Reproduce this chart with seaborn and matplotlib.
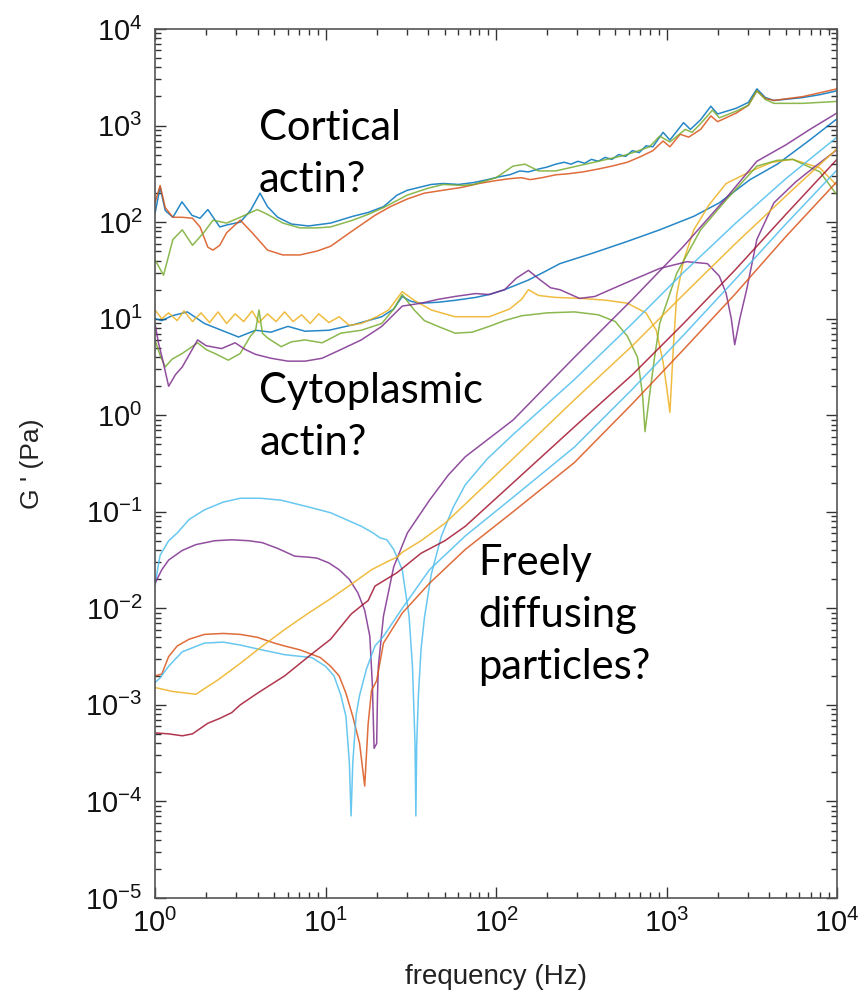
import numpy as np
import matplotlib
matplotlib.use("Agg")
import matplotlib.pyplot as plt
import matplotlib.ticker as mticker
import seaborn as sns

# ---- data: (log10 frequency [Hz], log10 G' [Pa]) ----
cort_blue = [(0,2.09),(0.03,2.36),(0.06,2.12),(0.105,2.05),(0.158,2.21),(0.217,2.07),(0.264,2.04),(0.31,2.13),
             (0.38,1.95),(0.42,1.97),(0.5,2.0),(0.56,2.12),(0.616,2.30),(0.66,2.16),(0.72,2.05),(0.8,1.98),
             (0.9,1.96),(1.03,1.99),(1.16,2.06),(1.25,2.1),(1.34,2.16),(1.42,2.28),(1.48,2.33),(1.55,2.36),
             (1.62,2.39),(1.69,2.40),(1.78,2.39),(1.87,2.41),(1.95,2.44),(2.02,2.47),(2.08,2.49),(2.14,2.53),
             (2.19,2.52),(2.25,2.55),(2.30,2.57),(2.35,2.60),(2.40,2.62),(2.44,2.60),(2.48,2.63),(2.52,2.61),
             (2.56,2.65),(2.6,2.63),(2.64,2.67),(2.68,2.65),(2.72,2.70),(2.76,2.68),(2.80,2.74),(2.84,2.72),
             (2.88,2.79),(2.92,2.78),(2.98,2.93),(3.02,2.85),(3.10,3.03),(3.14,2.96),(3.20,3.06),(3.26,3.20),
             (3.30,3.12),(3.41,3.18),(3.48,3.24),(3.53,3.38),(3.58,3.29),(3.63,3.26),(3.80,3.29),(3.90,3.32),(4.0,3.36)]
cort_orange = [(0,2.2),(0.03,2.38),(0.06,2.15),(0.105,2.05),(0.16,2.05),(0.22,2.04),(0.264,1.95),(0.31,1.74),
               (0.34,1.71),(0.38,1.76),(0.42,1.89),(0.5,2.02),(0.57,1.89),(0.66,1.71),(0.75,1.66),(0.85,1.66),
               (0.95,1.70),(1.03,1.75),(1.15,1.90),(1.29,2.07),(1.38,2.16),(1.48,2.24),(1.58,2.30),(1.69,2.33),
               (1.80,2.36),(1.90,2.40),(2.0,2.43),(2.08,2.45),(2.15,2.46),(2.2,2.44),(2.27,2.46),(2.35,2.49),
               (2.42,2.50),(2.51,2.52),(2.6,2.55),(2.68,2.58),(2.77,2.62),(2.85,2.68),(2.92,2.74),(2.98,2.84),
               (3.02,2.78),(3.08,2.91),(3.13,2.88),(3.20,2.96),(3.26,3.10),(3.30,3.04),(3.41,3.13),(3.48,3.21),
               (3.53,3.36),(3.58,3.28),(3.63,3.26),(3.80,3.30),(3.90,3.34),(4.0,3.38)]
cort_green = [(0,1.61),(0.05,1.45),(0.105,1.82),(0.16,1.92),(0.22,1.76),(0.29,1.90),(0.34,2.02),(0.42,1.99),
              (0.5,2.05),(0.6,2.13),(0.66,2.08),(0.75,1.99),(0.85,1.94),(0.95,1.94),(1.03,1.95),(1.16,2.02),
              (1.25,2.08),(1.34,2.15),(1.48,2.28),(1.6,2.35),(1.69,2.39),(1.8,2.38),(1.87,2.39),(2.0,2.46),
              (2.1,2.58),(2.17,2.60),(2.25,2.53),(2.35,2.53),(2.45,2.57),(2.55,2.61),(2.65,2.65),(2.75,2.69),
              (2.82,2.73),(2.9,2.78),(2.96,2.89),(3.02,2.83),(3.11,2.96),(3.15,2.93),(3.20,3.02),(3.27,3.16),
              (3.31,3.08),(3.41,3.15),(3.48,3.21),(3.53,3.36),(3.58,3.27),(3.63,3.23),(3.80,3.23),(3.90,3.24),(4.0,3.25)]

cyto_blue = [(0,1.0),(0.04,0.98),(0.1,1.03),(0.19,1.07),(0.29,0.95),(0.39,0.88),(0.49,0.81),(0.59,0.88),
             (0.68,0.86),(0.78,0.92),(0.88,0.87),(1.02,0.88),(1.17,0.94),(1.33,1.02),(1.40,1.10),(1.45,1.23),
             (1.50,1.18),(1.56,1.16),(1.66,1.17),(1.76,1.19),(1.88,1.22),(1.96,1.25),(2.05,1.30),(2.19,1.40),
             (2.30,1.50),(2.375,1.57),(2.57,1.68),(2.77,1.80),(2.96,1.92),(3.16,2.06),(3.31,2.20),(3.49,2.44),
             (3.65,2.60),(3.84,2.85),(4.0,3.07)]
cyto_yellow = [(0,1.09),(0.04,1.0),(0.08,1.06),(0.13,0.98),(0.17,1.08),(0.22,0.97),(0.27,1.06),(0.32,0.96),
               (0.37,1.07),(0.42,0.95),(0.47,1.05),(0.52,0.97),(0.57,1.08),(0.61,0.96),(0.66,1.05),(0.71,0.97),
               (0.76,1.07),(0.81,0.97),(0.86,1.04),(0.91,0.95),(0.96,1.05),(1.02,0.96),(1.08,1.02),(1.14,0.93),
               (1.21,0.95),(1.30,1.02),(1.37,1.09),(1.45,1.28),(1.52,1.19),(1.62,1.09),(1.76,1.02),(1.96,1.02),
               (2.08,1.10),(2.15,1.20),(2.19,1.30),(2.25,1.24),(2.35,1.22),(2.5,1.21),(2.65,1.19),(2.77,1.16),
               (2.88,1.06),(2.94,0.88),(2.98,0.55),(3.0,0.3),(3.02,0.03),(3.04,0.7),(3.06,1.25),(3.1,1.6),
               (3.16,1.92),(3.25,2.18),(3.35,2.40),(3.51,2.54),(3.62,2.62),(3.74,2.65),(3.9,2.56),(4.0,2.38)]
cyto_green = [(0,0.78),(0.03,0.62),(0.06,0.50),(0.1,0.58),(0.16,0.64),(0.25,0.75),(0.3,0.68),(0.35,0.64),
              (0.43,0.57),(0.5,0.64),(0.56,0.82),(0.59,0.88),(0.61,1.09),(0.63,0.85),(0.66,0.80),(0.74,0.71),
              (0.8,0.76),(0.88,0.78),(0.98,0.75),(1.09,0.85),(1.21,0.88),(1.33,0.95),(1.40,1.1),(1.45,1.25),
              (1.52,1.09),(1.58,0.98),(1.66,0.92),(1.76,0.85),(1.86,0.86),(1.96,0.92),(2.05,0.98),(2.15,1.03),
              (2.3,1.06),(2.46,1.07),(2.6,1.04),(2.7,0.97),(2.77,0.82),(2.83,0.6),(2.86,0.2),(2.874,-0.17),
              (2.9,0.2),(2.93,0.6),(2.96,0.95),(3.06,1.47),(3.2,1.92),(3.35,2.23),(3.53,2.58),(3.65,2.64),
              (3.74,2.65),(3.9,2.52),(4.0,2.28)]
cyto_purple = [(0,0.95),(0.02,0.75),(0.04,0.61),(0.08,0.30),(0.12,0.42),(0.16,0.50),(0.25,0.78),(0.3,0.72),
               (0.39,0.69),(0.47,0.75),(0.53,0.68),(0.59,0.63),(0.68,0.59),(0.78,0.56),(0.88,0.56),(0.98,0.59),
               (1.09,0.68),(1.21,0.78),(1.33,0.92),(1.45,1.13),(1.56,1.16),(1.66,1.20),(1.76,1.23),(1.88,1.26),
               (1.96,1.25),(2.05,1.30),(2.12,1.42),(2.19,1.50),(2.26,1.40),(2.32,1.32),(2.375,1.30),(2.49,1.21),
               (2.58,1.23),(2.67,1.30),(2.8,1.40),(2.96,1.52),(3.12,1.59),(3.24,1.57),(3.31,1.44),(3.35,1.26),
               (3.38,1.0),(3.40,0.73),(3.43,1.0),(3.47,1.30),(3.53,1.82),(3.63,2.2),(3.76,2.42),(3.86,2.56),(4.0,2.75)]

diff_cyan1 = [(0,-1.77),(0.015,-1.6),(0.03,-1.45),(0.08,-1.3),(0.13,-1.22),(0.2,-1.08),(0.29,-0.98),(0.4,-0.9),
              (0.5,-0.86),(0.62,-0.86),(0.74,-0.88),(0.9,-0.95),(1.03,-1.01),(1.12,-1.08),(1.21,-1.15),(1.28,-1.22),
              (1.32,-1.27),(1.36,-1.29),(1.40,-1.39),(1.45,-1.6),(1.49,-2.08),(1.51,-2.6),(1.525,-3.4),(1.53,-4.15),
              (1.535,-3.4),(1.545,-2.9),(1.56,-2.43),(1.58,-2.1),(1.62,-1.65),(1.68,-1.25),(1.75,-0.95),(1.82,-0.72),
              (1.95,-0.45),(2.1,-0.2),(2.46,0.37),(2.8,0.95),(3.1,1.48),(3.4,1.98),(3.7,2.45),(4.0,2.88)]
diff_purple = [(0,-1.74),(0.04,-1.6),(0.08,-1.5),(0.16,-1.4),(0.24,-1.34),(0.35,-1.3),(0.45,-1.29),(0.55,-1.3),
               (0.63,-1.32),(0.72,-1.38),(0.82,-1.46),(0.9,-1.47),(0.95,-1.48),(1.02,-1.53),(1.08,-1.6),(1.14,-1.7),
               (1.19,-1.84),(1.23,-2.02),(1.26,-2.29),(1.275,-2.8),(1.285,-3.45),(1.30,-3.4),(1.305,-2.9),(1.31,-2.6),
               (1.34,-2.08),(1.40,-1.57),(1.48,-1.22),(1.61,-0.88),(1.72,-0.62),(1.82,-0.43),(2.1,-0.05),(2.46,0.6),
               (2.8,1.2),(3.1,1.75),(3.35,2.25),(3.53,2.63),(3.7,2.8),(3.85,2.97),(4.0,3.13)]
diff_orange = [(0,-2.7),(0.04,-2.68),(0.08,-2.5),(0.13,-2.39),(0.2,-2.32),(0.29,-2.27),(0.4,-2.26),(0.5,-2.27),
               (0.6,-2.3),(0.7,-2.36),(0.76,-2.39),(0.85,-2.43),(0.97,-2.51),(1.03,-2.6),(1.08,-2.7),(1.12,-2.88),
               (1.16,-3.12),(1.2,-3.4),(1.23,-3.84),(1.25,-3.2),(1.27,-2.85),(1.3,-2.75),(1.34,-2.36),(1.45,-2.05),
               (1.61,-1.74),(1.82,-1.39),(2.1,-1.0),(2.46,-0.49),(2.8,0.12),(3.1,0.68),(3.4,1.25),(3.7,1.85),(4.0,2.42)]
diff_cyan2 = [(0,-2.77),(0.03,-2.72),(0.08,-2.6),(0.16,-2.45),(0.29,-2.36),(0.4,-2.35),(0.5,-2.38),(0.6,-2.42),
              (0.76,-2.48),(0.92,-2.51),(1.0,-2.6),(1.05,-2.7),(1.09,-2.9),(1.12,-3.12),(1.14,-3.6),(1.15,-4.15),
              (1.16,-3.6),(1.18,-3.1),(1.2,-2.9),(1.24,-2.63),(1.29,-2.39),(1.34,-2.29),(1.45,-2.0),(1.61,-1.6),
              (1.82,-1.25),(2.1,-0.85),(2.46,-0.33),(2.8,0.27),(3.1,0.83),(3.4,1.40),(3.7,1.98),(4.0,2.54)]
diff_yellow = [(0,-2.82),(0.1,-2.86),(0.24,-2.89),(0.3,-2.82),(0.37,-2.74),(0.5,-2.57),(0.63,-2.39),(0.76,-2.22),
               (0.9,-2.05),(1.03,-1.9),(1.16,-1.74),(1.27,-1.6),(1.37,-1.51),(1.42,-1.47),(1.45,-1.42),(1.56,-1.30),
               (1.7,-1.12),(1.82,-0.92),(2.1,-0.45),(2.46,0.16),(2.8,0.72),(3.1,1.25),(3.4,1.77),(3.7,2.27),(4.0,2.76)]
diff_darkred = [(0,-3.29),(0.08,-3.3),(0.16,-3.32),(0.22,-3.3),(0.31,-3.19),(0.38,-3.14),(0.45,-3.08),(0.5,-3.0),
                (0.6,-2.88),(0.76,-2.70),(0.9,-2.5),(1.03,-2.32),(1.15,-2.06),(1.22,-1.96),(1.25,-1.92),(1.29,-1.77),
                (1.42,-1.63),(1.56,-1.43),(1.7,-1.3),(1.82,-1.15),(2.1,-0.7),(2.46,-0.12),(2.8,0.42),(3.1,0.95),
                (3.4,1.5),(3.7,2.08),(4.0,2.65)]

# axis ticks (decades)
x_ticks = [1e0, 1e1, 1e2, 1e3, 1e4]
y_ticks = [1e-5, 1e-4, 1e-3, 1e-2, 1e-1, 1e0, 1e1, 1e2, 1e3, 1e4]
x_tick_labels = [r"$10^{0}$", r"$10^{1}$", r"$10^{2}$", r"$10^{3}$", r"$10^{4}$"]
y_tick_labels = [r"$10^{-5}$", r"$10^{-4}$", r"$10^{-3}$", r"$10^{-2}$", r"$10^{-1}$",
                 r"$10^{0}$", r"$10^{1}$", r"$10^{2}$", r"$10^{3}$", r"$10^{4}$"]

# MATLAB default colour order
C_BLUE, C_ORANGE, C_YELLOW = "#0072BD", "#D95319", "#EDB120"
C_PURPLE, C_GREEN, C_CYAN, C_DRED = "#7E2F8E", "#77AC30", "#4DBEEE", "#A2142F"

curves = [
    (cort_blue, C_BLUE), (cort_orange, C_ORANGE), (cort_green, C_GREEN),
    (cyto_blue, C_BLUE), (cyto_yellow, C_YELLOW), (cyto_green, C_GREEN), (cyto_purple, C_PURPLE),
    (diff_cyan1, C_CYAN), (diff_purple, C_PURPLE), (diff_orange, C_ORANGE), (diff_cyan2, C_CYAN),
    (diff_yellow, C_YELLOW), (diff_darkred, C_DRED),
]

x_label = "frequency (Hz)"
y_label = "G ' (Pa)"
annotations = ["Cortical\nactin?", "Cytoplasmic\nactin?", "Freely\ndiffusing\nparticles?"]

# ---- style ----
sns.set_style("ticks")
plt.rcParams["font.family"] = ["Liberation Sans", "DejaVu Sans"]
plt.rcParams["mathtext.fontset"] = "custom"
plt.rcParams["mathtext.rm"] = "Liberation Sans"
plt.rcParams["mathtext.it"] = "Liberation Sans:italic"
plt.rcParams["mathtext.bf"] = "Liberation Sans:bold"

fig = plt.figure(figsize=(8.65, 10.02), dpi=100)
ax = fig.add_axes([155/865, 1 - 898/1002, (837-155)/865, (898-29)/1002])
ax.set_xscale("log")
ax.set_yscale("log")

for pts, col in curves:
    arr = np.array(pts)
    sns.lineplot(x=np.power(10.0, arr[:, 0]), y=np.power(10.0, arr[:, 1]), ax=ax,
                 color=col, lw=1.1, alpha=0.85, estimator=None, sort=False)

ax.set_xlim(1, 1e4)
ax.set_ylim(1e-5, 1e4)
ax.set_xticks(x_ticks)
ax.set_xticklabels(x_tick_labels)
ax.set_yticks(y_ticks)
ax.set_yticklabels(y_tick_labels)
minor_x = [m * d for d in [1e0, 1e1, 1e2, 1e3] for m in range(2, 10)]
minor_y = [m * d for d in [1e-5, 1e-4, 1e-3, 1e-2, 1e-1, 1e0, 1e1, 1e2, 1e3] for m in range(2, 10)]
ax.xaxis.set_minor_locator(mticker.FixedLocator(minor_x))
ax.yaxis.set_minor_locator(mticker.FixedLocator(minor_y))
ax.xaxis.set_minor_formatter(mticker.NullFormatter())
ax.yaxis.set_minor_formatter(mticker.NullFormatter())

ax.tick_params(which="both", direction="in", top=True, right=True, colors="#333333",
               labelcolor="#111111", width=1.0)
ax.tick_params(which="major", length=8, labelsize=21)
ax.tick_params(axis="x", which="major", pad=8)
ax.tick_params(axis="y", which="major", pad=9)
ax.tick_params(which="minor", length=4)
for s in ax.spines.values():
    s.set_color("#555555")
    s.set_linewidth(1.2)

ax.set_xlabel(x_label, fontsize=20, color="#222222")
ax.set_ylabel(y_label, fontsize=19, color="#222222")
ax.xaxis.set_label_coords(0.5, -0.076)
ax.xaxis.label.set_va("top")
ax.yaxis.set_label_coords(-0.163, 0.5)

ann_kw = dict(transform=ax.transAxes, va="top", ha="left", fontsize=30, family=["Lato", "DejaVu Sans"],
              color="black", linespacing=1.45)
ax.text(0.1525, 0.908, annotations[0], **ann_kw)
ax.text(0.153, 0.605, annotations[1], **ann_kw)
ax.text(0.4736, 0.407, annotations[2], **ann_kw)

fig.savefig("out.png", dpi=100)
